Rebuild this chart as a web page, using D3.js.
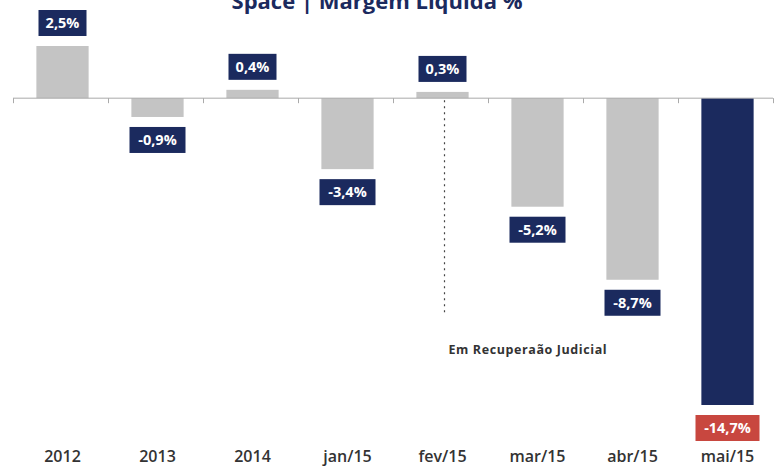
<!DOCTYPE html>
<html>
<head>
<meta charset="utf-8">
<script src="https://cdn.jsdelivr.net/npm/d3@7"></script>
<style>
  body { margin: 0; background: #fff; }
  svg { display: block; font-family: "Open Sans", "Noto Sans", sans-serif; }
</style>
</head>
<body>
<div id="chart"></div>
<script>
// chart data
const categories = ['2012', '2013', '2014', 'jan/15', 'fev/15', 'mar/15', 'abr/15', 'mai/15'];
const values = [2.5, -0.9, 0.4, -3.4, 0.3, -5.2, -8.7, -14.7];
const labels = ['2,5%', '-0,9%', '0,4%', '-3,4%', '0,3%', '-5,2%', '-8,7%', '-14,7%'];
const title = 'Space | Margem Líquida %';
const note = 'Em Recuperaão Judicial';
const noteAfter = 'fev/15';

const width = 776, height = 469;
const navy = '#1b2a5e', grey = '#c4c4c4', red = '#c8473f';

const svg = d3.select('#chart').append('svg')
  .attr('width', width)
  .attr('height', height);

const x = d3.scaleBand()
  .domain(categories)
  .range([13, 773])
  .paddingInner(0.45)
  .paddingOuter(0.225);

// band boundaries for ticks
const step = x.step();
const x0 = 13;

const y = d3.scaleLinear()
  .domain([-14.7, 2.5])
  .range([405, 46]);

// title (cut off at the top in the original)
svg.append('text')
  .attr('x', 377)
  .attr('y', 9)
  .attr('text-anchor', 'middle')
  .attr('font-size', 22)
  .attr('font-weight', 'bold')
  .attr('fill', navy)
  .text(title);

// bars
svg.append('g')
  .selectAll('rect')
  .data(values)
  .enter()
  .append('rect')
  .attr('x', (d, i) => x(categories[i]) + 2)
  .attr('width', x.bandwidth())
  .attr('y', d => y(Math.max(0, d)))
  .attr('height', d => Math.abs(y(d) - y(0)))
  .attr('fill', (d, i) => i === values.length - 1 ? navy : grey);

// zero axis line and ticks
const axis = svg.append('g').attr('stroke', '#aaa').attr('stroke-width', 1);
axis.append('line')
  .attr('x1', x0).attr('x2', x0 + step * categories.length)
  .attr('y1', y(0)).attr('y2', y(0));
axis.selectAll('.tick')
  .data(d3.range(categories.length + 1))
  .enter()
  .append('line')
  .attr('x1', i => x0 + i * step + 0.5)
  .attr('x2', i => x0 + i * step + 0.5)
  .attr('y1', y(0))
  .attr('y2', y(0) + 5);

// dashed marker line
const mx = x(noteAfter) + x.bandwidth() / 2 + 4;
svg.append('line')
  .attr('x1', mx).attr('x2', mx)
  .attr('y1', y(0) + 2).attr('y2', 316)
  .attr('stroke', '#444')
  .attr('stroke-width', 1.2)
  .attr('stroke-dasharray', '2,4');

svg.append('text')
  .attr('x', mx + 4)
  .attr('y', 354)
  .attr('font-size', 12.5)
  .attr('font-weight', 'bold')
  .attr('letter-spacing', 0.6)
  .attr('fill', '#333')
  .text(note);

// value labels
const lab = svg.append('g')
  .selectAll('g')
  .data(values)
  .enter()
  .append('g')
  .attr('transform', (d, i) => {
    const cx = x(categories[i]) + 2 + x.bandwidth() / 2;
    const cy = d >= 0 ? y(d) - 23 : y(d) + 23;
    return `translate(${cx},${cy})`;
  });

lab.append('rect')
  .attr('x', (d, i) => -(labels[i].length * 4 + 8))
  .attr('width', (d, i) => 2 * (labels[i].length * 4 + 8))
  .attr('y', -13)
  .attr('height', 26)
  .attr('fill', (d, i) => i === values.length - 1 ? red : navy);

lab.append('text')
  .attr('text-anchor', 'middle')
  .attr('dy', '0.36em')
  .attr('font-size', 14.5)
  .attr('font-weight', 'bold')
  .attr('fill', '#fff')
  .text((d, i) => labels[i]);

// category labels
svg.append('g')
  .selectAll('text')
  .data(categories)
  .enter()
  .append('text')
  .attr('x', d => x(d) + 2 + x.bandwidth() / 2)
  .attr('y', 462)
  .attr('text-anchor', 'middle')
  .attr('font-size', 16)
  .attr('font-weight', 600)
  .attr('fill', '#333')
  .text(d => d);
</script>
</body>
</html>
